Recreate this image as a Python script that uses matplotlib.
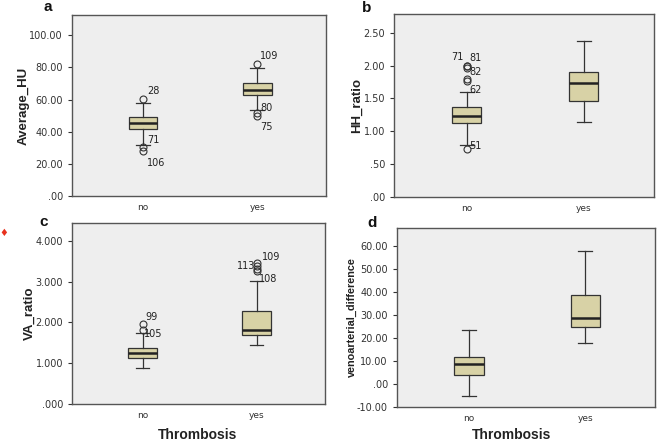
import matplotlib
matplotlib.use("Agg")
import matplotlib.pyplot as plt
from matplotlib.ticker import FuncFormatter

# Box statistics: [no, yes]
groups = ["no", "yes"]

a_med = [45.7, 66.0]
a_q1 = [41.6, 62.8]
a_q3 = [49.0, 70.2]
a_lo = [31.9, 53.3]
a_hi = [57.6, 79.8]
a_fliers = [[60.3, 30.2, 28.0], [82.1, 51.9, 49.8]]
a_labels = [["28", "71", "106"], ["109", "80", "75"]]

b_med = [1.235, 1.728]
b_q1 = [1.128, 1.458]
b_q3 = [1.367, 1.910]
b_lo = [0.793, 1.138]
b_hi = [1.596, 2.368]
b_fliers = [[2.00, 1.99, 1.97, 1.80, 1.76, 0.73], []]
b_labels = [["71", "81", "82", "", "62", "51"], []]

c_med = [1.259, 1.819]
c_q1 = [1.128, 1.704]
c_q3 = [1.383, 2.288]
c_lo = [0.889, 1.440]
c_hi = [1.753, 3.029]
c_fliers = [[1.96, 1.82], [3.46, 3.39, 3.32, 3.26]]
c_labels = [["99", "105"], ["113", "109", "", "108"]]

d_med = [8.9, 28.8]
d_q1 = [3.9, 24.9]
d_q3 = [11.9, 38.9]
d_lo = [-5.1, 17.9]
d_hi = [23.7, 58.1]
d_fliers = [[], []]
d_labels = [[], []]

# label offsets (points) for the outlier case numbers, per panel
_OFFS = {
    "a": [[(3, 6), (3, 5), (3, -9)], [(2, 6), (2, 3), (2, -8)]],
    "b": [[(-11, 6), (2, 6), (2, -3), (0, 0), (2, -6), (2, 2)], []],
    "c": [[(2, 5), (1, -3)], [(-14, -2), (4, 6), (0, 0), (2, -6)]],
    "d": [[], []],
}

BOX_FILL = "#d8d2a6"
BG = "#eeeeee"
EDGE = "#333333"
LABEL_FONT = ["Liberation Sans", "DejaVu Sans"]


def fmt(decimals):
    def f(v, _):
        s = f"{v:.{decimals}f}"
        if s.startswith("0"):
            s = s[1:]
        elif s.startswith("-0"):
            s = "-" + s[2:]
        return s
    return FuncFormatter(f)


def panel(fig, rect, letter, med, q1, q3, lo, hi, fliers, labels,
          ylim, yticks, dec, ylabel, ylabel_size):
    ax = fig.add_axes(rect)
    ax.set_facecolor(BG)
    stats = []
    for i in range(2):
        stats.append({"med": med[i], "q1": q1[i], "q3": q3[i],
                      "whislo": lo[i], "whishi": hi[i], "fliers": fliers[i]})
    ax.bxp(stats, positions=[1, 2], widths=0.25, capwidths=0.12,
           patch_artist=True,
           boxprops={"facecolor": BOX_FILL, "edgecolor": EDGE, "linewidth": 0.9},
           medianprops={"color": "#222222", "linewidth": 1.8},
           whiskerprops={"color": EDGE, "linewidth": 0.9},
           capprops={"color": EDGE, "linewidth": 0.9},
           flierprops={"marker": "o", "markerfacecolor": "none",
                       "markeredgecolor": EDGE, "markersize": 5,
                       "markeredgewidth": 0.8})
    for i in range(2):
        for v, lab, off in zip(fliers[i], labels[i], _OFFS[letter][i]):
            if lab:
                ax.annotate(lab, (i + 1, v), xytext=off, textcoords="offset points",
                            fontsize=7, color="#222222", ha="left", va="center")
    ax.set_xlim(0.38, 2.6)
    ax.set_ylim(*ylim)
    ax.set_yticks(yticks)
    ax.yaxis.set_major_formatter(fmt(dec))
    ax.set_xticks([1, 2])
    ax.set_xticklabels(groups)
    ax.tick_params(axis="y", labelsize=7, length=3, colors="#333333")
    ax.tick_params(axis="x", labelsize=6.5, length=0, pad=5, colors="#333333")
    for sp in ax.spines.values():
        sp.set_color("#555555")
        sp.set_linewidth(1.0)
    ax.set_ylabel(ylabel, fontsize=ylabel_size, fontweight="bold", color="#222222",
                  labelpad=0, family=LABEL_FONT)
    return ax


fig = plt.figure(figsize=(6.58, 4.42), dpi=100)

panel(fig, [0.1094, 0.5566, 0.386, 0.4095], "a", a_med, a_q1, a_q3, a_lo, a_hi,
      a_fliers, a_labels, (0, 112.6), [0, 20, 40, 60, 80, 100], 2,
      "Average_HU", 9.5)
panel(fig, [0.5988, 0.5543, 0.395, 0.414], "b", b_med, b_q1, b_q3, b_lo, b_hi,
      b_fliers, b_labels, (0, 2.785), [0, 0.5, 1.0, 1.5, 2.0, 2.5], 2,
      "HH_ratio", 9.5)
panel(fig, [0.1094, 0.086, 0.3845, 0.4095], "c", c_med, c_q1, c_q3, c_lo, c_hi,
      c_fliers, c_labels, (0, 4.44), [0, 1, 2, 3, 4], 3,
      "VA_ratio", 9.5)
panel(fig, [0.6033, 0.0792, 0.392, 0.405], "d", d_med, d_q1, d_q3, d_lo, d_hi,
      d_fliers, d_labels, (-10, 68), [-10, 0, 10, 20, 30, 40, 50, 60], 2,
      "venoarterial_difference", 7.8)

# shared x axis title under the bottom panels
for x in (198, 512):
    fig.text(x / 658, 1 - 435 / 442, "Thrombosis", fontsize=10, fontweight="bold",
             ha="center", va="center", color="#222222", family=LABEL_FONT)

# panel letters
for letter, x, y in [("a", 48, 7), ("b", 367, 8), ("c", 44, 222), ("d", 372, 223)]:
    fig.text(x / 658, 1 - y / 442, letter, fontsize=11, fontweight="bold",
             ha="center", va="center", color="#111111", family=LABEL_FONT)

# small red marker at the left edge
fig.text(4 / 658, 1 - 233 / 442, "\u2666", fontsize=7, color="#e8321e",
         ha="center", va="center")

fig.savefig("out.png", dpi=100)
plt.close(fig)
